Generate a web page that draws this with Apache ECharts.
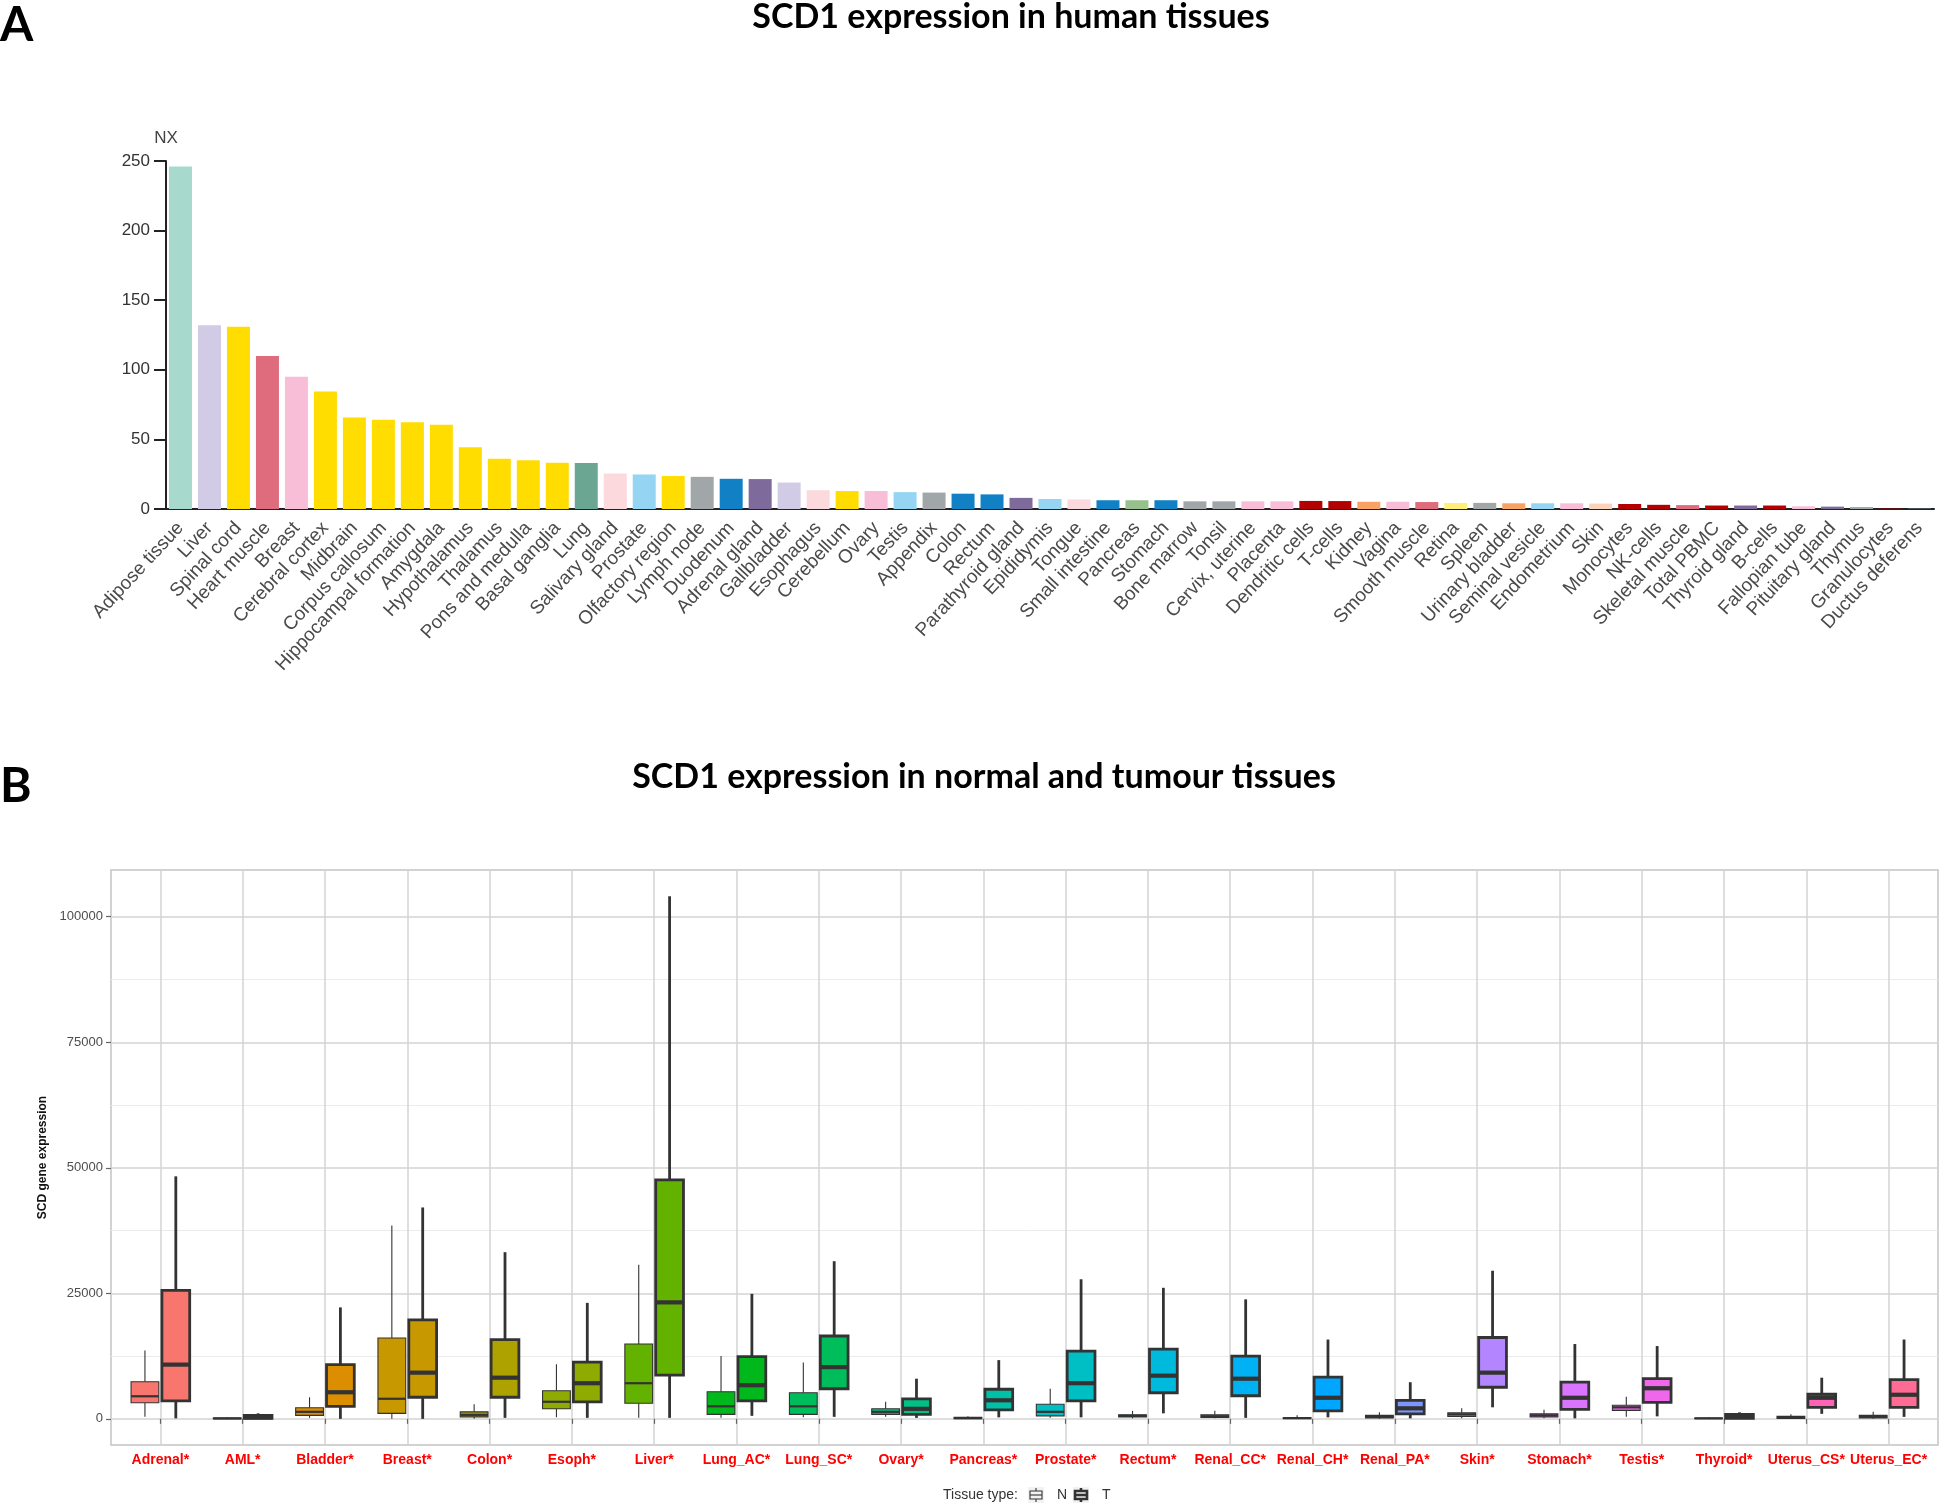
<!DOCTYPE html>
<html><head><meta charset="utf-8">
<script src="https://cdn.jsdelivr.net/npm/echarts@6/dist/echarts.min.js"></script>
<style>html,body{margin:0;padding:0;background:#fff}#c{width:1946px;height:1509px}</style>
</head><body><div id="c"></div>
<script>
// ---------- Panel A data ----------
const barCategories = ['Adipose tissue','Liver','Spinal cord','Heart muscle','Breast','Cerebral cortex','Midbrain','Corpus callosum','Hippocampal formation','Amygdala','Hypothalamus','Thalamus','Pons and medulla','Basal ganglia','Lung','Salivary gland','Prostate','Olfactory region','Lymph node','Duodenum','Adrenal gland','Gallbladder','Esophagus','Cerebellum','Ovary','Testis','Appendix','Colon','Rectum','Parathyroid gland','Epididymis','Tongue','Small intestine','Pancreas','Stomach','Bone marrow','Tonsil','Cervix, uterine','Placenta','Dendritic cells','T-cells','Kidney','Vagina','Smooth muscle','Retina','Spleen','Urinary bladder','Seminal vesicle','Endometrium','Skin','Monocytes','NK-cells','Skeletal muscle','Total PBMC','Thyroid gland','B-cells','Fallopian tube','Pituitary gland','Thymus','Granulocytes','Ductus deferens'];
const barValues = [246,132,131,110,95,84.5,65.7,64.2,62.4,60.6,44.3,36.1,35.1,33.2,33,25.5,24.8,23.7,23.1,21.7,21.5,19,13.5,12.9,12.9,12.1,11.8,11,10.5,8,7.2,6.9,6.3,6.3,6.3,5.5,5.5,5.5,5.5,5.8,5.7,5.2,5.2,5.0,4.4,4.4,4.1,4.1,4.1,3.9,3.6,3.0,2.8,2.5,2.5,2.5,1.9,1.7,1.4,0.3,0.2];
const yTicksA = [0,50,100,150,200,250];

// ---------- Panel B data ----------
const boxCategories = ['Adrenal*','AML*','Bladder*','Breast*','Colon*','Esoph*','Liver*','Lung_AC*','Lung_SC*','Ovary*','Pancreas*','Prostate*','Rectum*','Renal_CC*','Renal_CH*','Renal_PA*','Skin*','Stomach*','Testis*','Thyroid*','Uterus_CS*','Uterus_EC*'];
// [min, Q1, median, Q3, max]
const normalStats = [
 [400,3200,4500,7400,13600],[0,20,80,180,300],[200,700,1400,2200,4300],[0,1100,4000,16100,38500],
 [0,400,800,1400,2900],[300,2000,3400,5600,10900],[200,3100,7100,14900,30700],[200,900,2500,5400,12500],
 [300,900,2500,5200,11200],[400,900,1400,2000,3400],[0,50,150,300,500],[200,600,1400,2900,6000],
 [100,400,600,800,1600],[100,300,500,800,1600],[0,50,150,250,700],[0,200,400,700,1300],
 [100,500,900,1200,2100],[100,400,700,1000,1800],[400,1700,2300,2700,4400],[0,50,100,150,300],
 [0,100,300,500,900],[0,200,400,700,1400]];
const tumourStats = [
 [100,3600,10800,25600,48300],[0,100,300,700,1100],[0,2500,5300,10800,22200],[0,4300,9200,19700,42100],
 [200,4300,8200,15800,33200],[200,3400,7100,11300,23100],[200,8700,23200,47600,104100],[600,3600,6700,12400,24900],
 [400,6000,10300,16500,31400],[200,900,2000,4000,8000],[300,1800,3700,5900,11700],[300,3600,7100,13500,27800],
 [1100,5200,8600,13900,26100],[200,4600,8000,12500,23800],[300,1600,4200,8300,15800],[100,1000,2100,3700,7300],
 [2300,6300,9200,16200,29500],[100,1900,4200,7300,14900],[500,3300,6100,8000,14500],[0,100,500,900,1300],
 [1000,2300,4200,4900,8200],[400,2300,4800,7800,15800]];
const yTicksB = [0,25000,50000,75000,100000];
const yMinorB = [12500,37500,62500,87500];

// ---------- styles ----------
const C = {adi:'#A7DACD',liv:'#D1CBE5',brain:'#FFDD00',mus:'#DE6C7D',fem:'#F8BDD7',lung:'#6AA692',lpink:'#FCD9DC',lblue:'#95D4F3',gray:'#A1A6A8',gi:'#1280C4',endo:'#7F6A9C',pan:'#96C08E',blood:'#B30000',kid:'#F9A266',ret:'#FFEF78',skin:'#FBD3BB'};
const barColors = [C.adi,C.liv,C.brain,C.mus,C.fem,C.brain,C.brain,C.brain,C.brain,C.brain,C.brain,C.brain,C.brain,C.brain,C.lung,C.lpink,C.lblue,C.brain,C.gray,C.gi,C.endo,C.liv,C.lpink,C.brain,C.fem,C.lblue,C.gray,C.gi,C.gi,C.endo,C.lblue,C.lpink,C.gi,C.pan,C.gi,C.gray,C.gray,C.fem,C.fem,C.blood,C.blood,C.kid,C.fem,C.mus,C.ret,C.gray,C.kid,C.lblue,C.fem,C.skin,C.blood,C.blood,C.mus,C.blood,C.endo,C.blood,C.fem,C.endo,C.gray,C.blood,C.lblue];

function hcl(h, c, l) {
  const hr = h * Math.PI / 180, U = c * Math.cos(hr), V = c * Math.sin(hr);
  const Xn = 95.047, Yn = 100, Zn = 108.883;
  const den = Xn + 15 * Yn + 3 * Zn, un = 4 * Xn / den, vn = 9 * Yn / den;
  const Y = Yn * (l > 8 ? Math.pow((l + 16) / 116, 3) : l / 903.3);
  const u = U / (13 * l) + un, v = V / (13 * l) + vn;
  const X = Y * 9 * u / (4 * v), Z = Y * (12 - 3 * u - 20 * v) / (4 * v);
  const x = X / 100, y = Y / 100, z = Z / 100;
  const lin = [3.240479*x - 1.537150*y - 0.498535*z, -0.969256*x + 1.875992*y + 0.041556*z, 0.055648*x - 0.204043*y + 1.057311*z];
  return '#' + lin.map(t => { t = t <= 0.0031308 ? 12.92 * t : 1.055 * Math.pow(t, 1/2.4) - 0.055; t = Math.max(0, Math.min(1, t)); return Math.round(t*255).toString(16).padStart(2,'0'); }).join('');
}
const boxFill = boxCategories.map((_, i) => hcl(15 + i * 360 / boxCategories.length, 100, 65));

function makeRender(dodge, lw, medLw) {
  return function (params, api) {
    const x = api.value(0) + dodge;
    const hw = api.size([0.16875, 0])[0];
    const pMin = api.coord([x, api.value(1)]), pQ1 = api.coord([x, api.value(2)]), pMed = api.coord([x, api.value(3)]);
    const pQ3 = api.coord([x, api.value(4)]), pMax = api.coord([x, api.value(5)]);
    const cx = pMed[0], stroke = '#333333', fill = boxFill[params.dataIndex];
    return { type: 'group', children: [
      { type: 'line', shape: { x1: cx, y1: pMax[1], x2: cx, y2: pQ3[1] }, style: { stroke, lineWidth: lw } },
      { type: 'line', shape: { x1: cx, y1: pQ1[1], x2: cx, y2: pMin[1] }, style: { stroke, lineWidth: lw } },
      { type: 'rect', shape: { x: cx - hw, y: pQ3[1], width: 2 * hw, height: Math.max(pQ1[1] - pQ3[1], 0.5) }, style: { fill, stroke, lineWidth: lw } },
      { type: 'line', shape: { x1: cx - hw, y1: pMed[1], x2: cx + hw, y2: pMed[1] }, style: { stroke, lineWidth: medLw } }
    ]};
  };
}

const FONT = 'Liberation Sans';
const TFONT = 'Lato';
const chart = echarts.init(document.getElementById('c'), null, { renderer: 'canvas' });

function legendGlyph(x0, thick) {
  const lw = thick ? 2.6 : 1.1;
  const y0 = 1487, cx = x0 + 8;
  return [
    { type: 'rect', shape: { x: x0, y: y0, width: 16, height: 16 }, style: { fill: '#f2f2f2' } },
    { type: 'line', shape: { x1: cx, y1: y0 + 1, x2: cx, y2: y0 + 4 }, style: { stroke: '#333', lineWidth: lw } },
    { type: 'line', shape: { x1: cx, y1: y0 + 12, x2: cx, y2: y0 + 15 }, style: { stroke: '#333', lineWidth: lw } },
    { type: 'rect', shape: { x: x0 + 2, y: y0 + 4, width: 12, height: 8 }, style: { fill: 'transparent', stroke: '#333', lineWidth: lw } },
    { type: 'line', shape: { x1: x0 + 2, y1: y0 + 8, x2: x0 + 14, y2: y0 + 8 }, style: { stroke: '#333', lineWidth: lw } }
  ];
}

const option = {
  animation: false,
  textStyle: { fontFamily: FONT },
  grid: [
    { left: 166, top: 161, width: 1768, height: 348, containLabel: false },
    { left: 111, top: 870, width: 1827, height: 575, containLabel: false, show: true, borderColor: '#c4c4c4', borderWidth: 1.5, backgroundColor: '#ffffff' }
  ],
  xAxis: [
    { type: 'category', gridIndex: 0, data: barCategories,
      axisLine: { lineStyle: { color: '#222', width: 2 } },
      axisTick: { alignWithLabel: true, length: 11, lineStyle: { color: '#222', width: 2 } },
      axisLabel: { rotate: 47, interval: 0, fontSize: 19, color: '#4a4a4a', margin: 16, fontFamily: FONT } },
    { type: 'value', gridIndex: 1, min: 0.4, max: 22.6,
      axisLine: { show: false },
      axisTick: { show: true, length: 5, customValues: boxCategories.map((_, i) => i + 1), lineStyle: { color: '#666', width: 1.2 } },
      axisLabel: { customValues: boxCategories.map((_, i) => i + 1), formatter: v => boxCategories[Math.round(v) - 1] || '', color: '#ff0000', fontWeight: 'bold', fontSize: 14, margin: 8 },
      splitLine: { show: true, lineStyle: { color: '#d3d3d3', width: 1.5 } } }
  ],
  yAxis: [
    { type: 'value', gridIndex: 0, min: 0, max: 250, interval: 50, name: 'NX', nameGap: 14,
      nameTextStyle: { fontSize: 17, color: '#444', align: 'center' },
      axisLine: { show: true, lineStyle: { color: '#222', width: 2 } },
      axisTick: { show: true, length: 12, lineStyle: { color: '#222', width: 2 } },
      axisLabel: { fontSize: 17, color: '#333', margin: 16 },
      splitLine: { show: false } },
    { type: 'value', gridIndex: 1, min: -5205, max: 109305,
      name: 'SCD gene expression', nameLocation: 'middle', nameGap: 45, nameRotate: 90,
      nameTextStyle: { fontSize: 12, fontWeight: 'bold', color: '#111' },
      axisLine: { show: false },
      axisTick: { show: true, length: 5, customValues: yTicksB, lineStyle: { color: '#666', width: 1.2 } },
      axisLabel: { customValues: yTicksB, formatter: v => String(v), fontSize: 13, color: '#4d4d4d', margin: 8 },
      splitLine: { show: true, lineStyle: { color: '#d3d3d3', width: 1.5 } } },
    { type: 'value', gridIndex: 1, min: -5205, max: 109305, position: 'left',
      axisLine: { show: false }, axisLabel: { show: false },
      axisTick: { show: false, customValues: yMinorB },
      splitLine: { show: true, lineStyle: { color: '#ebebeb', width: 1 } } }
  ],
  series: [
    { type: 'bar', xAxisIndex: 0, yAxisIndex: 0, data: barValues, barWidth: 23,
      itemStyle: { color: p => barColors[p.dataIndex] } },
    { type: 'custom', name: 'N', xAxisIndex: 1, yAxisIndex: 1, renderItem: makeRender(-0.1875, 1.1, 2.2),
      encode: { x: 0, y: [1, 2, 3, 4, 5] }, data: normalStats.map((s, i) => [i + 1].concat(s)), z: 3 },
    { type: 'custom', name: 'T', xAxisIndex: 1, yAxisIndex: 1, renderItem: makeRender(0.1875, 2.8, 4.2),
      encode: { x: 0, y: [1, 2, 3, 4, 5] }, data: tumourStats.map((s, i) => [i + 1].concat(s)), z: 3 }
  ],
  graphic: [
    { type: 'text', left: 0, top: 2, style: { text: 'A', font: 'bold 48px ' + TFONT, fill: '#000' } },
    { type: 'text', x: 1011, y: 17, style: { text: 'SCD1 expression in human tissues', font: 'bold 34px ' + TFONT, fill: '#000', align: 'center', verticalAlign: 'middle' } },
    { type: 'text', left: 0, top: 763, style: { text: 'B', font: 'bold 48px ' + TFONT, fill: '#000' } },
    { type: 'text', x: 984, y: 777, style: { text: 'SCD1 expression in normal and tumour tissues', font: 'bold 34px ' + TFONT, fill: '#000', align: 'center', verticalAlign: 'middle' } },
    { type: 'group', children: [
      { type: 'text', x: 943, y: 1495, style: { text: 'Tissue type:', font: '14px ' + FONT, fill: '#333', verticalAlign: 'middle' } },
      ...legendGlyph(1028, false),
      { type: 'text', x: 1057, y: 1495, style: { text: 'N', font: '14px ' + FONT, fill: '#333', verticalAlign: 'middle' } },
      ...legendGlyph(1073, true),
      { type: 'text', x: 1102, y: 1495, style: { text: 'T', font: '14px ' + FONT, fill: '#333', verticalAlign: 'middle' } }
    ]}
  ]
};
chart.setOption(option);
</script></body></html>
